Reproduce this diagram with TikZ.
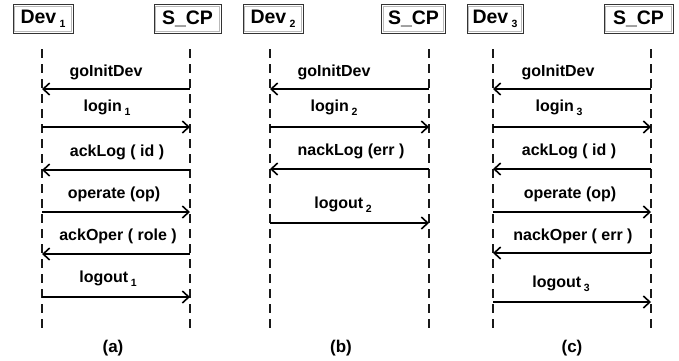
\documentclass[tikz,border=0pt]{standalone}
\usepackage{fontspec}
\setmainfont{Liberation Sans}
\usetikzlibrary{arrows.meta}

% small lowered index after a name, as in Dev 1
\newcommand{\lowix}[1]{\,{\fontsize{10.5}{10.5}\selectfont\raisebox{-4pt}{#1}}}

\tikzset{
  actor/.style={draw=black!80, line width=1pt, fill=white, minimum height=29pt,
    inner sep=0pt, font=\bfseries\fontsize{19.5}{19.5}\selectfont,
    path picture={\draw[gray!55, line width=1.1pt]
      ([shift={(1.7pt,-1.7pt)}]path picture bounding box.north west) rectangle
      ([shift={(-1.7pt,1.7pt)}]path picture bounding box.south east);}},
  lifeline/.style={line width=2.6pt, dash pattern=on 9pt off 6pt, black!90},
  msg/.style={line width=1.7pt, -{Straight Barb[length=6.5pt,width=12pt,line width=1.6pt]}},
  msglabel/.style={font=\bfseries\fontsize{16}{16}\selectfont, inner sep=0pt},
  caption/.style={font=\bfseries\fontsize{17}{17}\selectfont, inner sep=0pt}
}

\begin{document}
\begin{tikzpicture}[x=1pt, y=-1pt]
\useasboundingbox[fill=white] (0,0) rectangle (679,360);

% ---------- (a) ----------
\node[actor, minimum width=60pt] (devA) at (43,19) {Dev\lowix{1}};
\node[actor, minimum width=67pt] (scpA) at (187.5,19) {S\_CP};
\coordinate (devAtop) at (42,49);  \coordinate (devAbot) at (42,332);
\coordinate (scpAtop) at (190,49); \coordinate (scpAbot) at (190,332);
\draw[lifeline] (devAtop) -- (devAbot);
\draw[lifeline] (scpAtop) -- (scpAbot);
\foreach \n/\y in {1/89,2/127,3/170,4/212,5/254,6/297}{
  \coordinate (aL\n) at (42,\y); \coordinate (aR\n) at (190,\y);}
\draw[msg] (aR1) -- (aL1);
\draw[msg] (aL2) -- (aR2);
\draw[msg] (aR3) -- (aL3);
\draw[msg] (aL4) -- (aR4);
\draw[msg] (aR5) -- (aL5);
\draw[msg] (aL6) -- (aR6);
\node[msglabel] (ma1) at (106,72) {goInitDev};
\node[msglabel] (ma2) at (107,108) {login\lowix{1}};
\node[msglabel] (ma3) at (117,152) {ackLog ( id )};
\node[msglabel] (ma4) at (114,194) {operate (op)};
\node[msglabel] (ma5) at (118,236) {ackOper ( role )};
\node[msglabel] (ma6) at (108,279) {logout\lowix{1}};
\node[caption] (capA) at (113,348) {(a)};

% ---------- (b) ----------
\node[actor, minimum width=60pt] (devB) at (273,19) {Dev\lowix{2}};
\node[actor, minimum width=64pt] (scpB) at (413.5,19) {S\_CP};
\coordinate (devBtop) at (270,49);  \coordinate (devBbot) at (270,333);
\coordinate (scpBtop) at (429,49);  \coordinate (scpBbot) at (429,333);
\draw[lifeline] (devBtop) -- (devBbot);
\draw[lifeline] (scpBtop) -- (scpBbot);
\foreach \n/\y in {1/89,2/127,3/169,4/223}{
  \coordinate (bL\n) at (270,\y); \coordinate (bR\n) at (429,\y);}
\draw[msg] (bR1) -- (bL1);
\draw[msg] (bL2) -- (bR2);
\draw[msg] (bR3) -- (bL3);
\draw[msg] (bL4) -- (bR4);
\node[msglabel] (mb1) at (334,72) {goInitDev};
\node[msglabel] (mb2) at (334,108) {login\lowix{2}};
\node[msglabel] (mb3) at (351,151) {nackLog (err )};
\node[msglabel] (mb4) at (343,205) {logout\lowix{2}};
\node[caption] (capB) at (341,348) {(b)};

% ---------- (c) ----------
\node[actor, minimum width=56pt] (devC) at (495,19) {Dev\lowix{3}};
\node[actor, minimum width=69pt] (scpC) at (638.5,19) {S\_CP};
\coordinate (devCtop) at (493,49);  \coordinate (devCbot) at (493,333);
\coordinate (scpCtop) at (651,49);  \coordinate (scpCbot) at (651,333);
\draw[lifeline] (devCtop) -- (devCbot);
\draw[lifeline] (scpCtop) -- (scpCbot);
\foreach \n/\y in {1/89,2/127,3/169,4/212,5/253,6/302}{
  \coordinate (cL\n) at (493,\y); \coordinate (cR\n) at (651,\y);}
\draw[msg] (cR1) -- (cL1);
\draw[msg] (cL2) -- (cR2);
\draw[msg] (cR3) -- (cL3);
\draw[msg] (cL4) -- (cR4);
\draw[msg] (cR5) -- (cL5);
\draw[msg] (cL6) -- (cR6);
\node[msglabel] (mc1) at (558,72) {goInitDev};
\node[msglabel] (mc2) at (559,108) {login\lowix{3}};
\node[msglabel] (mc3) at (569,151) {ackLog ( id )};
\node[msglabel] (mc4) at (570,194) {operate (op)};
\node[msglabel] (mc5) at (573,236) {nackOper ( err )};
\node[msglabel] (mc6) at (561,284) {logout\lowix{3}};
\node[caption] (capC) at (572,348) {(c)};
\end{tikzpicture}
\end{document}
